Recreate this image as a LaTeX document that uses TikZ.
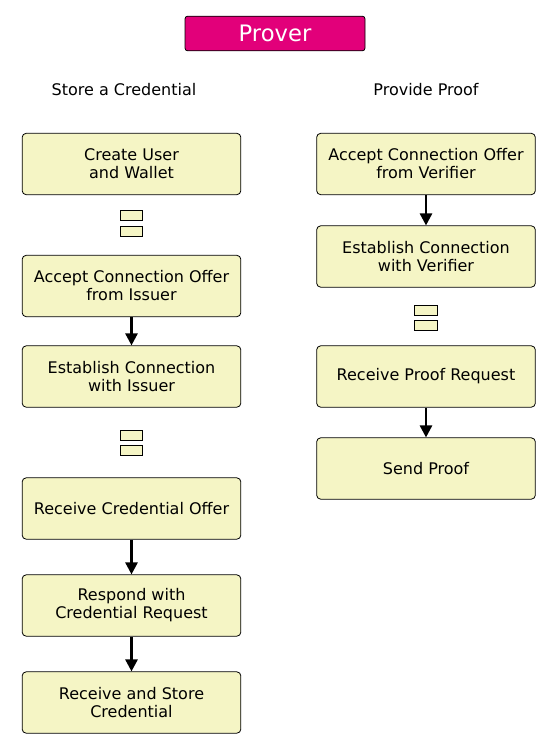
\documentclass[tikz,border=0pt]{standalone}
\usepackage{fontspec}
\setmainfont{DejaVu Sans}
\usepackage{tikz}
\usetikzlibrary{arrows.meta,calc}
\definecolor{actfill}{HTML}{F5F5C5}
\definecolor{lanefill}{HTML}{E2007A}
\tikzstyle{activity}=[draw,fill=actfill,rounded corners=3pt,line width=0.6pt,minimum width=164pt,minimum height=46pt,align=center,inner sep=0pt,font=\fontsize{12}{13.5}\selectfont]
\tikzstyle{detach}=[draw,fill=actfill,line width=0.6pt,minimum width=17pt,minimum height=7.5pt,inner sep=0pt]
\tikzstyle{edge} = [draw,line width=1.9pt,-{Triangle[length=9pt,width=9pt]}]
\tikzstyle{heading} = [font=\fontsize{12}{14}\selectfont]

\begin{document}
\begin{tikzpicture}[x=0.75pt,y=-0.75pt]
    \useasboundingbox (0,0) rectangle (551,749);
    % swimlane title
    \node[draw,fill=lanefill,rounded corners=2pt,line width=0.6pt,minimum width=135pt,minimum height=26pt,inner sep=0pt,text=white,font=\fontsize{17}{20}\selectfont] (prover) at (275,33.5) {Prover};
    \node[heading] (store) at (124,90) {Store a Credential};
    \node[heading] (provide) at (426,90) {Provide Proof};
    % left column: storing the credential
    \foreach \y/\name/\txt in {164/create/{Create User\\ and Wallet},
                               286/acceptI/{Accept Connection Offer \\ from Issuer},
                               376.5/establishI/{Establish Connection\\ with Issuer},
                               508.5/offer/{Receive Credential Offer},
                               605.5/request/{Respond with\\ Credential Request},
                               702.5/storecred/{Receive and Store\\ Credential}}
        \node[activity] (\name) at (131.5,\y) {\txt};
    % right column: giving the proof
    \foreach \y/\name/\txt in {164/acceptV/{Accept Connection Offer \\ from Verifier},
                               256.5/establishV/{Establish Connection\\ with Verifier},
                               376.5/proofreq/{Receive Proof Request},
                               468.5/sendproof/{Send Proof}}
        \node[activity] (\name) at (426,\y) {\txt};
    % detach marks
    \foreach \x/\y/\name in {131.5/215/dA1, 131.5/231/dA2, 131.5/435/dB1, 131.5/450/dB2,
                             426/310/dC1, 426/325/dC2}
        \node[detach] (\name) at (\x,\y) {};
    % arrows
    \foreach \source/\dest in {acceptI/establishI, offer/request, request/storecred,
                               acceptV/establishV, proofreq/sendproof}
        \path[edge] (\source) -- (\dest);
\end{tikzpicture}
\end{document}
